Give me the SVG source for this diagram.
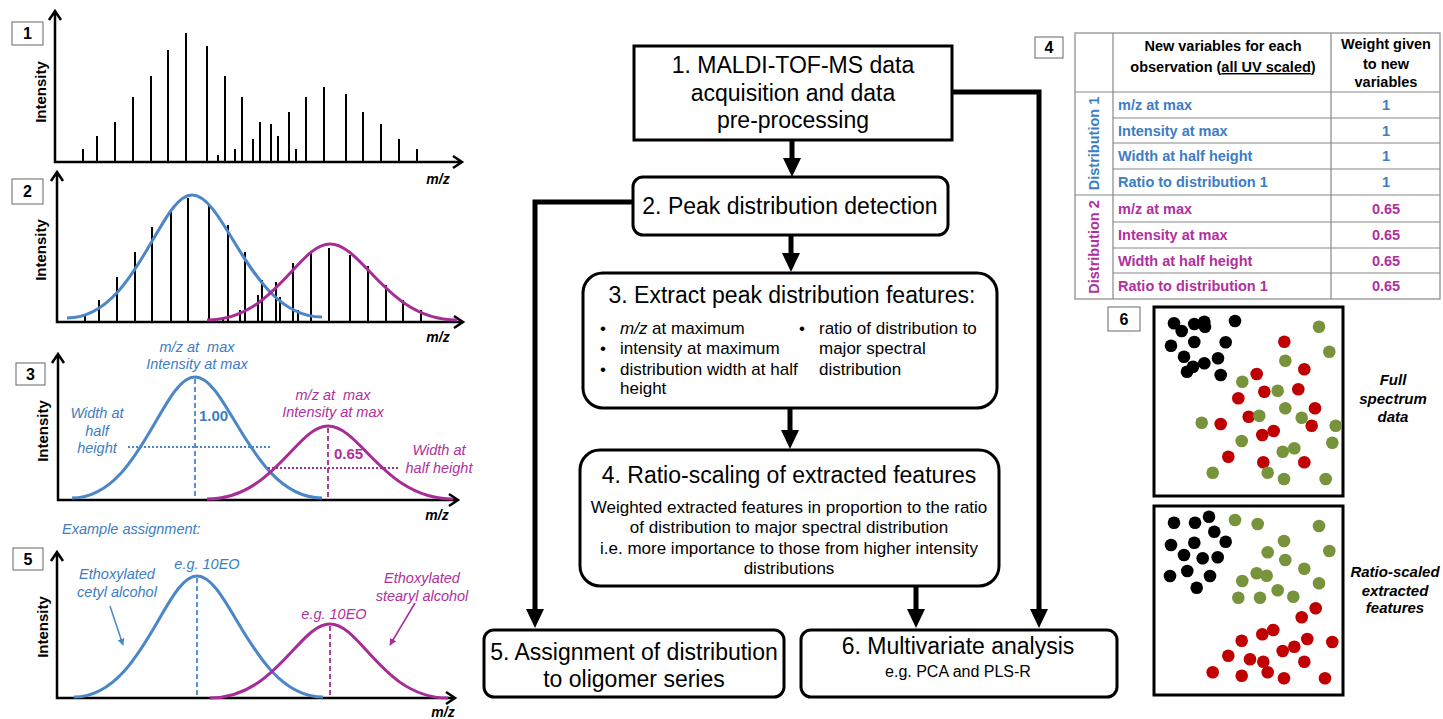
<svg xmlns="http://www.w3.org/2000/svg" width="1443" height="719" viewBox="0 0 1443 719">
<defs>
<style>
text{font-family:"Liberation Sans",Arial,sans-serif}
.box{fill:#fff;stroke:#000;stroke-width:3}
.lbl{fill:#fff;stroke:#7f7f7f;stroke-width:1.2}
.num{font-weight:bold;font-size:16px;text-anchor:middle}
.axis{stroke:#000;stroke-width:2.5;fill:none}
.pk{stroke:#000;stroke-width:2;fill:none}
.ylab{font-weight:bold;font-size:15px;text-anchor:middle}
.mz{font-weight:bold;font-style:italic;font-size:14px;text-anchor:middle}
.cb{fill:none;stroke:#4A86C8;stroke-width:3}
.cm{fill:none;stroke:#A62C96;stroke-width:3}
.tb{fill:#3C7DC4}
.tm{fill:#B0309E}
.it{font-style:italic;font-size:14.5px}
.dashb{stroke:#4A86C8;stroke-width:1.8;stroke-dasharray:5 3}
.dashm{stroke:#A62C96;stroke-width:1.8;stroke-dasharray:5 3}
.dotb{stroke:#4A86C8;stroke-width:1.8;stroke-dasharray:2 2}
.dotm{stroke:#A62C96;stroke-width:1.8;stroke-dasharray:2 2}
.h22{font-size:23px;text-anchor:middle}
.b17{font-size:17px}
.tbl{fill:none;stroke:#888;stroke-width:1.2}
.th{font-weight:bold;font-size:14.5px;text-anchor:middle}
.tr{font-weight:bold;font-size:14.5px}
.tv{font-weight:bold;font-size:14.5px;text-anchor:middle}
.k{fill:#000}
.r{fill:#C00000}
.g{fill:#77933C}
.sl{font-weight:bold;font-style:italic;font-size:15px;text-anchor:middle}
.conn{fill:none;stroke:#000;stroke-width:5}
</style>
<marker id="ab" viewBox="0 0 10 10" refX="9" refY="5" markerWidth="7" markerHeight="7" markerUnits="userSpaceOnUse" orient="auto"><path d="M0,0 L10,5 L0,10 z" fill="#4A86C8"/></marker>
<marker id="am" viewBox="0 0 10 10" refX="9" refY="5" markerWidth="7" markerHeight="7" markerUnits="userSpaceOnUse" orient="auto"><path d="M0,0 L10,5 L0,10 z" fill="#A62C96"/></marker>
</defs>
<rect width="1443" height="719" fill="#fff"/>

<g id="panel1">
<rect class="lbl" x="12" y="22" width="31" height="23"/>
<text class="num" x="27.5" y="39">1</text>
<path class="axis" d="M55 11V162H462M49 20L55 11L61 20M453 156L462 162L453 168"/>
<path class="pk" d="M83 162V149M97 162V136M115 162V122M133 162V97M151 162V76M168 162V50M186 162V33M207 162V46M218 162V155M225 162V76M235 162V149M242 162V97M253 162V139M260 162V122M271 162V124M278 162V136M289 162V112M296 162V149M306 162V97M324 162V87M346 162V94M363 162V112M381 162V124M399 162V139M417 162V149"/>
<text class="ylab" transform="translate(46,92) rotate(-90)">Intensity</text>
<text class="mz" x="438" y="184">m/z</text>
</g>

<g id="panel2">
<rect class="lbl" x="12" y="179" width="31" height="25"/>
<text class="num" x="27.5" y="197">2</text>
<path class="axis" d="M57 172V322H463M51 181L57 172L63 181M454 316L463 322L454 328"/>
<path class="pk" d="M85 322V316M99 322V300M117 322V277M135 322V252M152 322V227M171 322V211M188 322V198M209 322V206M223 322V317M228 322V225M240 322V310M245 322V252M258 322V295M262 322V280M276 322V282M280 322V297M293 322V263M298 322V310M311 322V253M329 322V248M350 322V255M368 322V266M386 322V285M403 322V300M421 322V310"/>
<path class="cb" d="M67 318C135.75 318 159.5 195 192 195C225.8 195 250.5 317 322 317"/>
<path class="cm" d="M207 320C274.65 320 298 244 330 244C363 244 387 320 457 320"/>
<text class="ylab" transform="translate(46,250) rotate(-90)">Intensity</text>
<text class="mz" x="438" y="342">m/z</text>
</g>

<g id="panel3">
<rect class="lbl" x="16" y="363" width="29" height="22"/>
<text class="num" x="30.5" y="380">3</text>
<path class="axis" d="M58 354V500H458M52 363L58 354L64 363M449 494L458 500L449 506"/>
<path class="cb" d="M72 498C139.65 498 162 377 195 377C228 377 252 498 322 498"/>
<path class="cm" d="M207 499C273.5 499 296.5 426 328 426C360.5 426 384 499 453 499"/>
<line class="dashb" x1="195" y1="379" x2="195" y2="499"/>
<line class="dotb" x1="128" y1="447" x2="270" y2="447"/>
<line class="dashm" x1="328" y1="428" x2="328" y2="499"/>
<line class="dotm" x1="268" y1="468" x2="398" y2="468"/>
<text class="ylab" transform="translate(48,431) rotate(-90)">Intensity</text>
<g class="tb it" text-anchor="middle">
<text x="197" y="352" xml:space="preserve">m/z at  max</text>
<text x="197" y="369">Intensity at max</text>
<text x="97" y="418">Width at</text>
<text x="97" y="436">half</text>
<text x="97" y="453">height</text>
</g>
<text class="tb" x="199" y="421" font-weight="bold" font-size="15">1.00</text>
<g class="tm it" text-anchor="middle">
<text x="333" y="400" xml:space="preserve">m/z at  max</text>
<text x="333" y="417">Intensity at max</text>
<text x="439" y="455">Width at</text>
<text x="439" y="473">half height</text>
</g>
<text class="tm" x="334" y="459" font-weight="bold" font-size="15">0.65</text>
<text class="mz" x="437" y="520">m/z</text>
</g>

<g id="panel5">
<text class="tb it" x="62" y="534">Example assignment:</text>
<rect class="lbl" x="13" y="548" width="30" height="22"/>
<text class="num" x="28" y="565">5</text>
<path class="axis" d="M57 552V698H455M51 561L57 552L63 561M446 692L455 698L446 704"/>
<path class="cb" d="M74 697C141.7 697 165 576 197 576C229.8 576 253.7 697 323 697"/>
<path class="cm" d="M210 698C276 698 298.8 624 330 624C360.7 624 383 698 448 698"/>
<line class="dashb" x1="197" y1="578" x2="197" y2="697"/>
<line class="dashm" x1="330" y1="626" x2="330" y2="697"/>
<text class="ylab" transform="translate(48,627) rotate(-90)">Intensity</text>
<g class="tb it" text-anchor="middle">
<text x="207" y="569">e.g. 10EO</text>
<text x="117" y="579">Ethoxylated</text>
<text x="117" y="597">cetyl alcohol</text>
</g>
<g class="tm it" text-anchor="middle">
<text x="334" y="619">e.g. 10EO</text>
<text x="422" y="583">Ethoxylated</text>
<text x="422" y="601">stearyl alcohol</text>
</g>
<line x1="110" y1="606" x2="123" y2="645" stroke="#4A86C8" stroke-width="1.5" marker-end="url(#ab)"/>
<line x1="415" y1="603" x2="390" y2="645" stroke="#A62C96" stroke-width="1.5" marker-end="url(#am)"/>
<text class="mz" x="443" y="717">m/z</text>
</g>

<g id="connectors">
<path class="conn" d="M792 140V160M791 235V255M790 408V432M916 586V611M633 202H535V611M952 92H1039V611"/>
<path d="M783 158H801L792 177zM782 253H800L791 272zM781 430H799L790 449zM907 609H925L916 628zM526 609H544L535 628zM1030 609H1048L1039 628z" fill="#000"/>
</g>

<g id="box1">
<rect class="box" x="634" y="46" width="318" height="94"/>
<text class="h22" x="793" y="73">1. MALDI-TOF-MS data</text>
<text class="h22" x="793" y="101">acquisition and data</text>
<text class="h22" x="793" y="128">pre-processing</text>
</g>

<g id="box2">
<rect class="box" x="633" y="177" width="315" height="58" rx="10"/>
<text class="h22" x="790" y="214">2. Peak distribution detection</text>
</g>

<g id="box3">
<rect class="box" x="583" y="273" width="414" height="135" rx="20"/>
<text class="h22" x="792" y="303">3. Extract peak distribution features:</text>
<g class="b17">
<text x="600" y="334">•</text><text x="620" y="334"><tspan font-style="italic">m/z</tspan> at maximum</text>
<text x="600" y="354">•</text><text x="620" y="354">intensity at maximum</text>
<text x="600" y="375">•</text><text x="620" y="375">distribution width at half</text>
<text x="620" y="394">height</text>
<text x="799" y="334">•</text><text x="819" y="334">ratio of distribution to</text>
<text x="819" y="354">major spectral</text>
<text x="819" y="375">distribution</text>
</g>
</g>

<g id="box4">
<rect class="box" x="580" y="450" width="419" height="136" rx="20"/>
<text class="h22" x="789" y="483">4. Ratio-scaling of extracted features</text>
<g class="b17" text-anchor="middle">
<text x="789" y="513">Weighted extracted features in proportion to the ratio</text>
<text x="789" y="533">of distribution to major spectral distribution</text>
<text x="789" y="554">i.e. more importance to those from higher intensity</text>
<text x="789" y="574">distributions</text>
</g>
</g>

<g id="box5">
<rect class="box" x="484" y="630" width="300" height="67" rx="10"/>
<text class="h22" x="634" y="660">5. Assignment of distribution</text>
<text class="h22" x="634" y="687">to oligomer series</text>
</g>

<g id="box6">
<rect class="box" x="801" y="630" width="316" height="67" rx="10"/>
<text class="h22" x="958" y="654">6. Multivariate analysis</text>
<text x="958" y="677" font-size="16" text-anchor="middle">e.g. PCA and PLS-R</text>
</g>

<g id="table4">
<rect class="lbl" x="1035" y="37" width="28" height="21"/>
<text class="num" x="1049" y="53">4</text>
<rect class="tbl" x="1075" y="33" width="365" height="266"/>
<path class="tbl" d="M1113 33V299M1331 33V299M1075 92H1440M1113 118H1440M1113 143H1440M1113 169H1440M1075 195H1440M1113 222H1440M1113 248H1440M1113 273H1440"/>
<text class="th" x="1223" y="51">New variables for each</text>
<text class="th" x="1223" y="72">observation (<tspan text-decoration="underline">all UV scaled</tspan>)</text>
<text class="th" x="1386" y="49">Weight given</text>
<text class="th" x="1386" y="69">to new</text>
<text class="th" x="1386" y="87">variables</text>
<text class="tb" font-weight="bold" font-size="14.5" text-anchor="middle" transform="translate(1099,143.5) rotate(-90)">Distribution 1</text>
<text class="tm" font-weight="bold" font-size="14.5" text-anchor="middle" transform="translate(1099,247) rotate(-90)">Distribution 2</text>
<g class="tb">
<text class="tr" x="1118" y="110">m/z at max</text>
<text class="tr" x="1118" y="136">Intensity at max</text>
<text class="tr" x="1118" y="161">Width at half height</text>
<text class="tr" x="1118" y="187">Ratio to distribution 1</text>
<text class="tv" x="1386" y="110">1</text>
<text class="tv" x="1386" y="136">1</text>
<text class="tv" x="1386" y="161">1</text>
<text class="tv" x="1386" y="187">1</text>
</g>
<g class="tm">
<text class="tr" x="1118" y="214">m/z at max</text>
<text class="tr" x="1118" y="240">Intensity at max</text>
<text class="tr" x="1118" y="266">Width at half height</text>
<text class="tr" x="1118" y="291">Ratio to distribution 1</text>
<text class="tv" x="1386" y="214">0.65</text>
<text class="tv" x="1386" y="240">0.65</text>
<text class="tv" x="1386" y="266">0.65</text>
<text class="tv" x="1386" y="291">0.65</text>
</g>
</g>

<g id="panel6">
<rect class="lbl" x="1108" y="307" width="32" height="24"/>
<text class="num" x="1124" y="325">6</text>
<rect x="1154" y="307" width="189" height="189" fill="#fff" stroke="#000" stroke-width="3"/>
<g class="k">
<circle cx="1174" cy="323.3" r="6.3"/><circle cx="1181.7" cy="331" r="6.3"/><circle cx="1194.3" cy="324" r="6.3"/><circle cx="1204.3" cy="321.7" r="6.3"/><circle cx="1205" cy="326.7" r="6.3"/><circle cx="1235" cy="321" r="6.3"/><circle cx="1171" cy="345.7" r="6.3"/><circle cx="1194.3" cy="342" r="6.3"/><circle cx="1225.7" cy="342.3" r="6.3"/><circle cx="1184" cy="356.7" r="6.3"/><circle cx="1218" cy="358.3" r="6.3"/><circle cx="1204.3" cy="363.3" r="6.3"/><circle cx="1193" cy="366.7" r="6.3"/><circle cx="1187" cy="371.7" r="6.3"/><circle cx="1220.7" cy="375" r="6.3"/>
</g>
<g class="r">
<circle cx="1284.3" cy="341.7" r="6.3"/><circle cx="1304.3" cy="369.3" r="6.3"/><circle cx="1256.7" cy="374" r="6.3"/><circle cx="1298.3" cy="389.3" r="6.3"/><circle cx="1264.3" cy="391.7" r="6.3"/><circle cx="1238.3" cy="398.3" r="6.3"/><circle cx="1315" cy="408.3" r="6.3"/><circle cx="1248.7" cy="416.7" r="6.3"/><circle cx="1220.7" cy="424" r="6.3"/><circle cx="1311.7" cy="425.7" r="6.3"/><circle cx="1273.7" cy="431" r="6.3"/><circle cx="1262.3" cy="435" r="6.3"/><circle cx="1228.3" cy="456.7" r="6.3"/><circle cx="1263.3" cy="462.3" r="6.3"/><circle cx="1304.3" cy="462.3" r="6.3"/>
</g>
<g class="g">
<circle cx="1319" cy="326.7" r="6.3"/><circle cx="1329.3" cy="351.7" r="6.3"/><circle cx="1285.3" cy="360.7" r="6.3"/><circle cx="1242.3" cy="381.7" r="6.3"/><circle cx="1277.7" cy="390.7" r="6.3"/><circle cx="1285.3" cy="408.3" r="6.3"/><circle cx="1259.3" cy="415.7" r="6.3"/><circle cx="1301.7" cy="417.7" r="6.3"/><circle cx="1201.7" cy="422.7" r="6.3"/><circle cx="1335.7" cy="425.7" r="6.3"/><circle cx="1241.7" cy="441" r="6.3"/><circle cx="1332.3" cy="442.7" r="6.3"/><circle cx="1294.3" cy="448.3" r="6.3"/><circle cx="1282.7" cy="451.7" r="6.3"/><circle cx="1212.7" cy="472.7" r="6.3"/><circle cx="1267.7" cy="472.7" r="6.3"/><circle cx="1284" cy="479" r="6.3"/><circle cx="1325.7" cy="479" r="6.3"/>
</g>
<text class="sl" x="1393" y="385">Full</text>
<text class="sl" x="1393" y="404">spectrum</text>
<text class="sl" x="1393" y="422">data</text>

<rect x="1154" y="506" width="189" height="189" fill="#fff" stroke="#000" stroke-width="3"/>
<g class="k">
<circle cx="1174" cy="522.7" r="6.3"/><circle cx="1195" cy="522.7" r="6.3"/><circle cx="1209" cy="516.7" r="6.3"/><circle cx="1214.3" cy="531.7" r="6.3"/><circle cx="1225.7" cy="541.7" r="6.3"/><circle cx="1171" cy="545" r="6.3"/><circle cx="1194.3" cy="542.7" r="6.3"/><circle cx="1184" cy="555" r="6.3"/><circle cx="1202.7" cy="558.3" r="6.3"/><circle cx="1217.7" cy="557.3" r="6.3"/><circle cx="1170" cy="576" r="6.3"/><circle cx="1187.3" cy="571" r="6.3"/><circle cx="1210" cy="576" r="6.3"/><circle cx="1196.7" cy="587.7" r="6.3"/>
</g>
<g class="g">
<circle cx="1235" cy="520" r="6.3"/><circle cx="1257.7" cy="524" r="6.3"/><circle cx="1319" cy="526" r="6.3"/><circle cx="1284" cy="541" r="6.3"/><circle cx="1329.3" cy="551" r="6.3"/><circle cx="1267.7" cy="552.3" r="6.3"/><circle cx="1285.3" cy="560" r="6.3"/><circle cx="1304.3" cy="568.7" r="6.3"/><circle cx="1256.7" cy="573.3" r="6.3"/><circle cx="1266.7" cy="575.7" r="6.3"/><circle cx="1242.3" cy="581" r="6.3"/><circle cx="1319" cy="583.3" r="6.3"/><circle cx="1277.7" cy="590.3" r="6.3"/><circle cx="1238.3" cy="597.7" r="6.3"/><circle cx="1260" cy="597.7" r="6.3"/><circle cx="1293.3" cy="596.7" r="6.3"/>
</g>
<g class="r">
<circle cx="1315.7" cy="608.3" r="6.3"/><circle cx="1301.7" cy="617.3" r="6.3"/><circle cx="1273.3" cy="630" r="6.3"/><circle cx="1262.3" cy="634.3" r="6.3"/><circle cx="1241.7" cy="640.7" r="6.3"/><circle cx="1307.3" cy="639" r="6.3"/><circle cx="1332.3" cy="642" r="6.3"/><circle cx="1294.3" cy="646.7" r="6.3"/><circle cx="1282.7" cy="651" r="6.3"/><circle cx="1228.3" cy="655.7" r="6.3"/><circle cx="1250" cy="659.3" r="6.3"/><circle cx="1263.3" cy="661.7" r="6.3"/><circle cx="1304.3" cy="661.7" r="6.3"/><circle cx="1212.7" cy="672.3" r="6.3"/><circle cx="1241.7" cy="675.7" r="6.3"/><circle cx="1267.7" cy="672.3" r="6.3"/><circle cx="1284" cy="678.3" r="6.3"/><circle cx="1325" cy="678.3" r="6.3"/>
</g>
<text class="sl" x="1395" y="577">Ratio-scaled</text>
<text class="sl" x="1395" y="596">extracted</text>
<text class="sl" x="1395" y="613">features</text>
</g>
</svg>
